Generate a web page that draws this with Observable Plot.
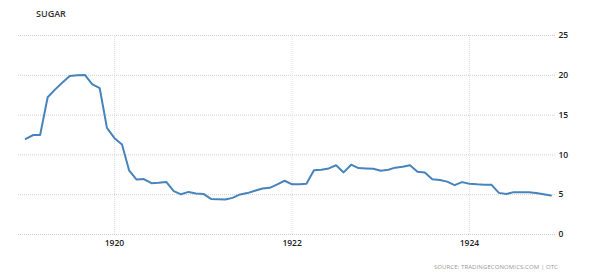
<!DOCTYPE html>
<html><head><meta charset="utf-8">
<script src="https://cdn.jsdelivr.net/npm/d3@7"></script>
<script src="https://cdn.jsdelivr.net/npm/@observablehq/plot@0.6"></script>
<style>
body{margin:0;background:#fff;font-family:"Open Sans",sans-serif;}
#wrap{position:relative;width:600px;height:279px;}
#title{position:absolute;left:36px;top:8px;font-size:9px;color:#333;font-weight:600;line-height:12px;}
#source{position:absolute;right:42px;top:263px;font-size:6px;color:#999;line-height:9px;letter-spacing:0.1px;}
</style></head>
<body>
<div id="wrap">
<div id="chart"></div>
<div id="title">SUGAR</div>
<div id="source">SOURCE: TRADINGECONOMICS.COM | OTC</div>
</div>
<script>
const title = "SUGAR";
const source = "SOURCE: TRADINGECONOMICS.COM | OTC";
const years = [1919, 1920, 1921, 1922, 1923, 1924];
const y1919 = [12.0, 12.5, 12.5, 17.25, 18.2, 19.1, 19.9, 20.0, 20.05, 18.9, 18.4, 13.4];
const y1920 = [12.1, 11.3, 8.06, 6.9, 6.96, 6.45, 6.5, 6.6, 5.45, 5.05, 5.35, 5.15];
const y1921 = [5.1, 4.47, 4.43, 4.4, 4.6, 5.03, 5.2, 5.5, 5.78, 5.86, 6.3, 6.75];
const y1922 = [6.3, 6.3, 6.37, 8.08, 8.14, 8.3, 8.7, 7.8, 8.77, 8.35, 8.3, 8.27];
const y1923 = [8.0, 8.14, 8.4, 8.5, 8.7, 7.87, 7.78, 6.95, 6.84, 6.64, 6.2, 6.58];
const y1924 = [6.37, 6.3, 6.26, 6.24, 5.23, 5.08, 5.32, 5.32, 5.3, 5.2, 5.06, 4.9];
const yTicks = [0, 5, 10, 15, 20, 25];
const xTickYears = [1920, 1922, 1924];

const series = [y1919, y1920, y1921, y1922, y1923, y1924];
const data = [];
series.forEach((vals, i) => vals.forEach((v, m) => data.push({date: new Date(Date.UTC(years[i], m, 1)), value: v})));
const xTicks = xTickYears.map(y => new Date(Date.UTC(y, 0, 1)));

const chart = Plot.plot({
  width: 600,
  height: 279,
  marginLeft: 18,
  marginRight: 45,
  marginTop: 35,
  marginBottom: 45,
  style: {fontFamily: "'Open Sans', sans-serif", fontSize: "8.5px", background: "#fff"},
  x: {type: "utc", domain: [new Date(Date.UTC(1918, 11, 2)), new Date(Date.UTC(1924, 11, 20))]},
  y: {domain: [0, 25]},
  marks: [
    Plot.gridY(yTicks, {stroke: "#d0d0d0", strokeOpacity: 1, strokeDasharray: "1,1"}),
    Plot.gridX(xTicks, {stroke: "#e0e0e0", strokeOpacity: 1, strokeDasharray: "1,1"}),
    Plot.axisY(yTicks, {anchor: "right", tickSize: 0, tickPadding: 3, label: null, fill: "#222", fontWeight: 600}),
    Plot.axisX(xTicks, {tickSize: 0, tickPadding: 5, label: null, tickFormat: d3.utcFormat("%Y"), fill: "#222", fontWeight: 600}),
    Plot.line(data, {x: "date", y: "value", stroke: "#4884bc", strokeWidth: 2, strokeLinejoin: "round"})
  ]
});
document.getElementById("chart").appendChild(chart);
</script>
</body></html>
